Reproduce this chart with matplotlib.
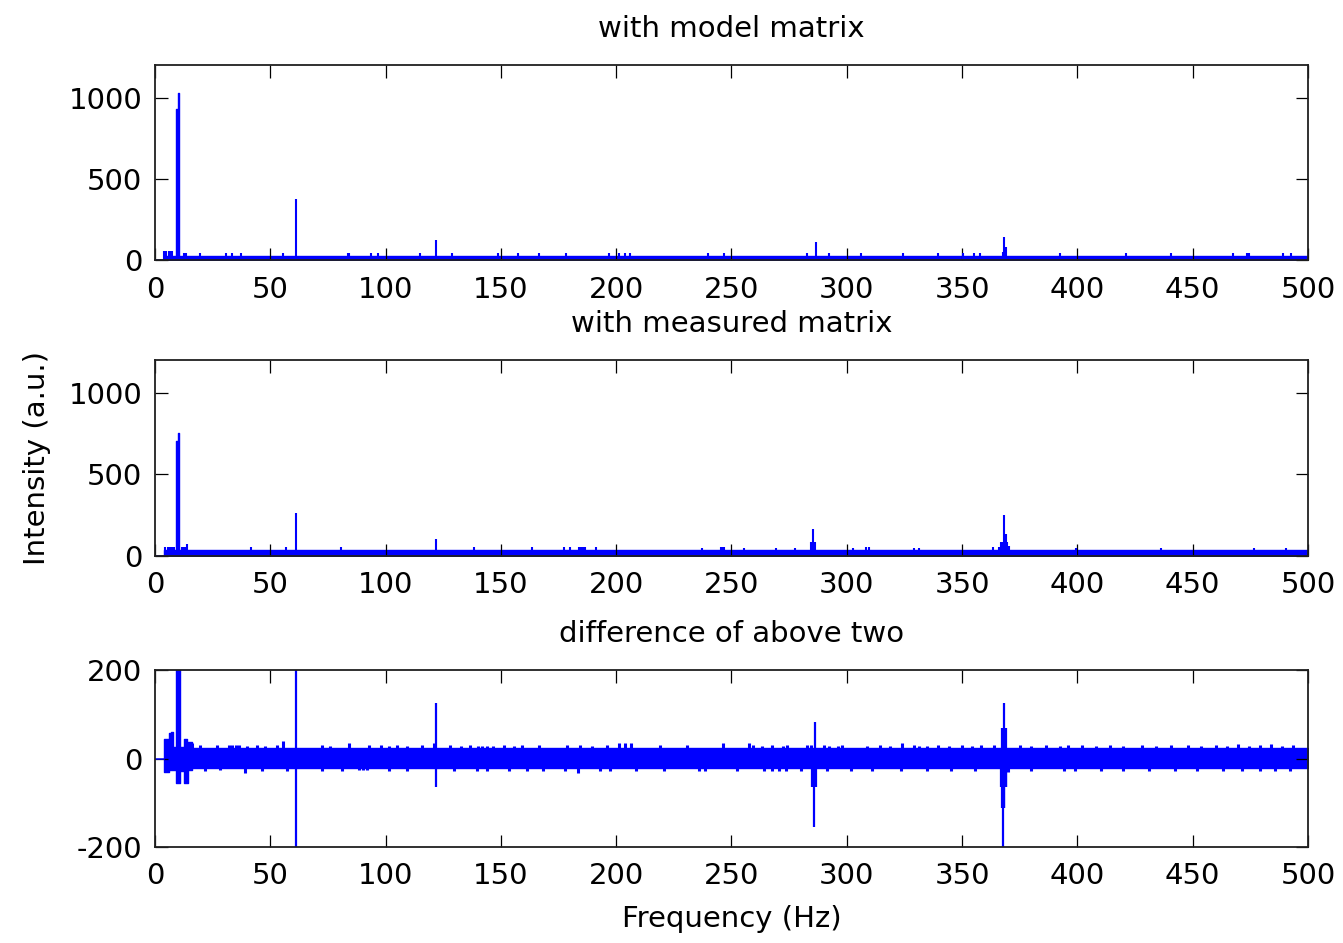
import numpy as np
import matplotlib
matplotlib.use("Agg")
import matplotlib.pyplot as plt

# ---------------- data ----------------
x_ticks = [0, 50, 100, 150, 200, 250, 300, 350, 400, 450, 500]
y_ticks_spec = [0, 500, 1000]
y_ticks_diff = [-200, 0, 200]

titles = ["with model matrix", "with measured matrix", "difference of above two"]
y_label = "Intensity (a.u.)"
x_label = "Frequency (Hz)"

# noise floor of the two spectra (level of the dense floor)
floor_start = 4.1
floor_model = 28
floor_measured = 32

# main peak (step bars) : edges and heights
model_peak_edges = [9.3, 9.9, 10.4]
model_peak_vals = [930, 1025]
measured_peak_edges = [9.3, 9.9, 10.5]
measured_peak_vals = [705, 750]

# spectrum 1 : with model matrix
model_freq = [4.1, 4.6, 5.9, 6.3, 7.4, 12.7, 13.6, 19.5, 31.0, 33.6, 37.3, 55.5,
              61.0, 83.5, 84.0, 93.6, 96.8, 115.0, 121.8, 128.6, 148.6, 157.6,
              166.6, 178.4, 196.7, 201.1, 203.7, 206.2, 239.9, 246.6, 282.9,
              286.5, 292.3, 306.0, 324.5, 339.6, 350.6, 355.2, 357.8, 367.6,
              368.3, 369.0, 392.5, 421.3, 440.8, 467.3, 473.5, 474.3, 489.0, 492.6]
model_vals = [60, 60, 58, 58, 60, 45, 45, 45, 45, 45, 45, 45,
              375, 45, 45, 45, 45, 45, 128, 45, 45, 45,
              45, 45, 45, 45, 45, 45, 45, 45, 45,
              112, 45, 45, 45, 45, 45, 45, 45, 50,
              145, 85, 45, 45, 45, 45, 45, 45, 45, 45]

# spectrum 2 : with measured matrix
measured_freq = [4.5, 5.5, 6.5, 7.5, 8.3, 11.5, 12.3, 13.0, 13.8, 41.7, 56.8,
                 61.0, 80.5, 121.7, 138.3, 163.4, 177.2, 179.8, 183.7, 184.7,
                 185.6, 186.6, 191.1, 237.3, 245.5, 246.2, 246.9, 255.3, 269.4,
                 277.5, 284.6, 285.4, 286.2, 302.6, 308.2, 309.6, 329.1, 331.3,
                 363.6, 366.0, 366.8, 367.5, 368.2, 368.9, 369.6, 370.4, 399.3,
                 436.2, 476.4, 490.5]
measured_vals = [52, 52, 52, 52, 52, 50, 50, 55, 70, 50, 50,
                 262, 50, 102, 50, 50, 50, 50, 50, 50,
                 50, 50, 50, 45, 50, 50, 50, 45, 45,
                 45, 85, 165, 85, 45, 50, 50, 45, 45,
                 50, 50, 85, 85, 250, 135, 85, 60, 45,
                 45, 45, 45]

# difference : core noise band
band_hi = 23
band_lo = -21
# low-frequency part of the difference (step plateaus)
diff_lf_edges = [4.1, 6.0, 7.0, 7.9, 9.3, 10.8, 12.5, 13.7, 14.2, 16.1]
diff_lf_hi = [45, 57, 60, 27, 250, 25, 45, 33, 38]
diff_lf_lo = [-30, -27, -27, -27, -55, -28, -55, -55, -25]

# difference : large spikes (freq, top, bottom)
diff_spike_freq = [61.0, 121.8, 285.0, 285.6, 286.2, 286.6, 367.0, 367.4,
                   367.8, 368.0, 368.4, 368.9, 369.2]
diff_spike_hi = [250, 125, 22, 22, 82, 22, 22, 68, 68, 125, 68, 68, 22]
diff_spike_lo = [-250, -65, -64, -155, -64, -64, -64, -112, -250, -112, -112, -64, -64]

# difference : small upward excursions of the noise band
diff_up_freq = [16.1, 19.7, 27.0, 32.0, 33.5, 35.0, 36.5, 40.0, 44.3, 47.9, 53.0,
                55.6, 72.5, 76.1, 84.0, 92.7, 97.8, 101.4, 105.0, 109.4, 115.9,
                120.9, 128.1, 132.5, 136.8, 140.0, 142.0, 144.0, 146.5, 151.3,
                155.6, 159.2, 166.4, 178.7, 184.5, 189.6, 196.1, 201.1, 204.0,
                206.3, 219.2, 230.8, 246.4, 257.5, 259.4, 263.4, 267.6, 272.2,
                274.1, 282.8, 284.3, 290.0, 292.3, 296.3, 298.0, 308.8, 314.6,
                318.8, 324.0, 329.2, 331.2, 334.8, 339.6, 344.5, 350.1, 354.1,
                358.1, 363.7, 375.0, 379.8, 386.2, 392.6, 395.8, 402.2, 407.9,
                414.3, 419.9, 427.9, 434.3, 440.8, 448.0, 453.6, 460.0, 464.8,
                469.7, 474.5, 479.3, 484.1, 488.9, 493.7]
diff_up_vals = [34, 30, 30, 30, 30, 30, 30, 28, 30, 28, 30,
                40, 30, 28, 34, 31, 30, 28, 30, 28, 30,
                34, 30, 28, 30, 28, 28, 28, 28, 30,
                28, 30, 30, 30, 30, 28, 30, 34, 34,
                34, 30, 30, 34, 34, 30, 28, 30, 28,
                30, 30, 30, 30, 28, 28, 30, 28, 30,
                28, 34, 30, 28, 28, 30, 28, 30, 28,
                30, 30, 30, 28, 30, 28, 30, 30, 28,
                30, 28, 30, 28, 30, 30, 28, 30, 28,
                32, 28, 30, 32, 28, 30]

# difference : small downward excursions of the noise band
diff_dn_freq = [21.9, 28.4, 39.2, 46.5, 57.3, 72.5, 81.2, 88.4, 90.0, 92.0,
                101.4, 109.4, 129.6, 139.7, 144.0, 153.4, 161.4, 168.4, 178.0,
                183.6, 193.0, 197.4, 208.4, 220.6, 235.8, 238.7, 252.5, 264.0,
                267.6, 270.5, 273.8, 280.3, 291.5, 301.9, 310.8, 323.6, 334.8,
                345.3, 355.7, 370.1, 379.8, 394.2, 399.0, 410.3, 419.9, 431.1,
                442.4, 452.0, 463.2, 471.3, 479.3, 485.7, 492.1]
diff_dn_vals = [-28, -27, -32, -28, -28, -28, -28, -27, -27, -27,
                -28, -28, -28, -28, -28, -28, -28, -28, -28,
                -33, -28, -28, -28, -28, -28, -28, -28, -28,
                -28, -28, -28, -28, -28, -28, -28, -28, -28,
                -28, -28, -30, -28, -28, -28, -28, -28, -28,
                -28, -28, -28, -28, -28, -28, -28]

# ---------------- drawing ----------------
BLUE = (0, 0, 1)
plt.rcParams['font.family'] = ['DejaVu Sans']
plt.rcParams['axes.unicode_minus'] = False
FS = 21

fig = plt.figure(figsize=(13.43, 9.43), dpi=100)
left, width = 0.1154, 0.8585
ax1 = fig.add_axes([left, 0.7238, width, 0.2073])
ax2 = fig.add_axes([left, 0.4109, width, 0.2073])
ax3 = fig.add_axes([left, 0.1018, width, 0.1877])


def style(ax, yticks, ylim, title):
    ax.set_xlim(0, 500)
    ax.set_ylim(*ylim)
    ax.set_xticks(x_ticks)
    ax.set_yticks(yticks)
    ax.tick_params(direction='in', length=9, width=0.9, top=True, right=True,
                   labelsize=FS, colors='black')
    ax.tick_params(axis='x', pad=11)
    ax.tick_params(axis='y', pad=9)
    for s in ax.spines.values():
        s.set_linewidth(1.3)
        s.set_color('#202020')
    ax.set_title(title, fontsize=FS, pad=20)


def spectrum(ax, floor, edges, peak_vals, freq, vals):
    ax.plot([0, floor_start], [0, 0], color=BLUE, lw=1.1)
    ax.fill_between([floor_start, 500], 0, floor, color=BLUE, lw=1.0)
    ax.fill_between(edges, 0, list(peak_vals) + [peak_vals[-1]], step='post',
                    color=BLUE, lw=1.0)
    ax.vlines(freq, 0, vals, color=BLUE, lw=1.5)


spectrum(ax1, floor_model, model_peak_edges, model_peak_vals, model_freq, model_vals)
style(ax1, y_ticks_spec, (0, 1200), titles[0])

spectrum(ax2, floor_measured, measured_peak_edges, measured_peak_vals,
         measured_freq, measured_vals)
style(ax2, y_ticks_spec, (0, 1200), titles[1])
ax2.set_ylabel(y_label, fontsize=FS)
ax2.yaxis.set_label_coords(-0.09, 0.5)

# difference
ax3.plot([0, diff_lf_edges[0]], [0, 0], color=BLUE, lw=1.1)
ax3.fill_between([diff_lf_edges[-1], 500], band_lo, band_hi, color=BLUE, lw=1.0)
ax3.fill_between(diff_lf_edges, list(diff_lf_lo) + [diff_lf_lo[-1]],
                 list(diff_lf_hi) + [diff_lf_hi[-1]], step='post', color=BLUE, lw=1.0)
ax3.vlines(diff_up_freq, 0, diff_up_vals, color=BLUE, lw=2.2)
ax3.vlines(diff_dn_freq, diff_dn_vals, 0, color=BLUE, lw=2.2)
ax3.vlines(diff_spike_freq, diff_spike_lo, diff_spike_hi, color=BLUE, lw=1.6)
style(ax3, y_ticks_diff, (-200, 200), titles[2])
ax3.set_xlabel(x_label, fontsize=FS)
ax3.xaxis.set_label_coords(0.5, -0.33)

fig.savefig("out.png", dpi=100)
